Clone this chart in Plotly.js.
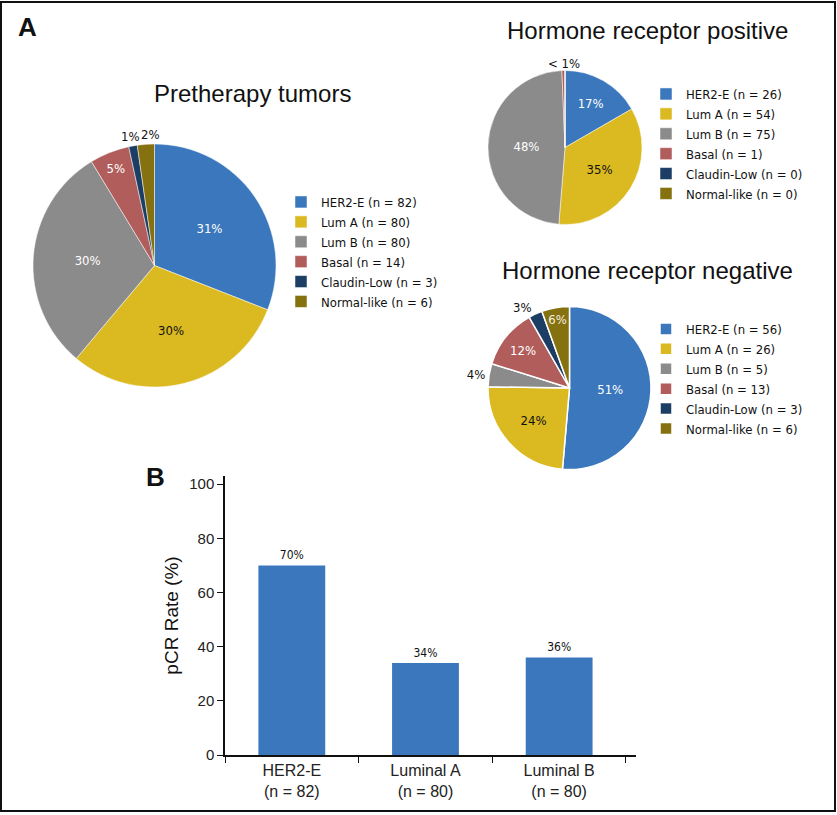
<!DOCTYPE html>
<html>
<head>
<meta charset="utf-8">
<script src="https://cdn.plot.ly/plotly-3.0.1.min.js"></script>
<style>
  body { margin: 0; background: #fff; }
  #chart { width: 837px; height: 815px; }
</style>
</head>
<body>
<div id="chart"></div>
<script>
// Subtype names and counts
var subtypes = ['HER2-E', 'Lum A', 'Lum B', 'Basal', 'Claudin-Low', 'Normal-like'];
var preN = [82, 80, 80, 14, 3, 6];
var hrPosN = [26, 54, 75, 1, 0, 0];
var hrNegN = [56, 26, 5, 13, 3, 6];

// Slice labels as printed in the figure
var preLabels = ['31%', '30%', '30%', '5%', '1%', '2%'];
var hrPosLabels = ['17%', '35%', '48%', '< 1%', '', ''];
var hrNegLabels = ['51%', '24%', '4%', '12%', '3%', '6%'];

// Panel B
var barCats = ['HER2-E<br>(n = 82)', 'Luminal A<br>(n = 80)', 'Luminal B<br>(n = 80)'];
var pcrRate = [70, 34, 36];

var colors = ['#3a77bc', '#dbb920', '#8b8b8b', '#b05d5b', '#1c3e65', '#85710f'];
var narrow = '"Liberation Sans Narrow", "DejaVu Sans Condensed", "Liberation Sans", Arial, sans-serif';
var sans = '"Liberation Sans", Arial, sans-serif';
var W = 837, H = 815;

// helpers for pixel -> paper fractions
function px(x) { return x / W; }
function py(y) { return 1 - y / H; }

function legendNames(counts) {
  return subtypes.map(function (s, i) { return s + ' (n = ' + counts[i] + ')'; });
}

// Creating the three pies
function pieTrace(counts, labels, cx, cy, r, legendId, txtColors, txtPos, lineW) {
  return {
    type: 'pie',
    labels: legendNames(counts),
    values: counts,
    text: labels,
    textinfo: 'text',
    textposition: txtPos,
    insidetextorientation: 'horizontal',
    sort: false,
    direction: 'clockwise',
    rotation: 0,
    hoverinfo: 'label+value',
    legend: legendId,
    legendgroup: legendId,
    domain: { x: [px(cx - r), px(cx + r)], y: [py(cy + r), py(cy - r)] },
    marker: { colors: colors, line: { color: '#ffffff', width: lineW } },
    textfont: { family: narrow, size: 13, color: txtColors },
    outsidetextfont: { family: narrow, size: 13, color: '#111' }
  };
}

// tiny slices of the first two pies get their labels as annotations (no leader lines)
var pre = pieTrace(preN, preLabels, 154.5, 265.5, 121.5, 'legend',
  ['#fff', '#111', '#fff', '#fff', '#fff', '#fff'],
  ['inside', 'inside', 'inside', 'inside', 'none', 'none'], 0.5);

var hrPos = pieTrace(hrPosN, hrPosLabels, 565, 147.5, 77, 'legend2',
  ['#fff', '#111', '#fff', '#fff', '#fff', '#fff'],
  ['inside', 'inside', 'inside', 'none', 'none', 'none'], 0.5);

var hrNeg = pieTrace(hrNegN, hrNegLabels, 569.5, 388, 81.5, 'legend3',
  ['#fff', '#111', '#fff', '#fff', '#fff', '#f4f0e0'],
  ['inside', 'inside', 'outside', 'inside', 'outside', 'inside'], 1.5);

// Creating the bar trace for panel B
var bars = {
  type: 'bar',
  x: barCats,
  y: pcrRate,
  width: 0.5,
  marker: { color: '#3a77bc' },
  text: pcrRate.map(function (v) { return v + '%'; }),
  textposition: 'outside',
  textfont: { family: narrow, size: 12, color: '#111' },
  cliponaxis: false,
  hoverinfo: 'x+y',
  showlegend: false,
  xaxis: 'x',
  yaxis: 'y'
};

function legendAt(x, y) {
  return {
    x: px(x), y: py(y), xanchor: 'left', yanchor: 'top',
    bgcolor: 'rgba(0,0,0,0)', borderwidth: 0,
    font: { family: narrow, size: 13, color: '#111' },
    itemclick: false, itemdoubleclick: false
  };
}

function note(text, x, y, size, bold, fam) {
  return {
    text: bold ? '<b>' + text + '</b>' : text,
    x: px(x), y: py(y), xref: 'paper', yref: 'paper',
    xanchor: 'center', yanchor: 'middle', showarrow: false,
    font: { family: fam || sans, size: size, color: '#111' }
  };
}

// Creating the layout
var layout = {
  width: W,
  height: H,
  margin: { l: 0, r: 0, t: 0, b: 0 },
  paper_bgcolor: '#fff',
  plot_bgcolor: 'rgba(0,0,0,0)',
  legend: legendAt(281, 187),
  legend2: legendAt(646, 79),
  legend3: legendAt(646, 314),
  xaxis: {
    domain: [px(225), px(636)],
    anchor: 'y',
    type: 'category',
    range: [-0.5, 2.575],
    tickson: 'boundaries',
    ticks: 'outside',
    ticklen: 6,
    tickcolor: '#111',
    showline: true,
    linecolor: '#111',
    linewidth: 1.5,
    showgrid: false,
    tickfont: { family: sans, size: 16, color: '#222' }
  },
  yaxis: {
    domain: [py(755), py(476)],
    anchor: 'x',
    range: [0, 103],
    tickvals: [0, 20, 40, 60, 80, 100],
    ticks: 'outside',
    ticklen: 6,
    tickcolor: '#111',
    showline: true,
    linecolor: '#111',
    linewidth: 1.5,
    showgrid: false,
    zeroline: false,
    tickfont: { family: sans, size: 15, color: '#222' },
    title: { text: 'pCR Rate (%)', standoff: 6, font: { family: sans, size: 19, color: '#111' } }
  },
  annotations: [
    note('A', 27, 27, 26, true),
    note('B', 155, 477, 26, true),
    note('Pretherapy tumors', 252, 93, 24, false),
    note('Hormone receptor positive', 647, 30, 24, false),
    note('Hormone receptor negative', 647, 270, 24, false),
    note(preLabels[4], 130, 136, 13, false, narrow),
    note(preLabels[5], 150, 135, 13, false, narrow),
    note(hrPosLabels[3], 564, 63, 13, false, narrow)
  ],
  shapes: [{
    type: 'rect', xref: 'paper', yref: 'paper',
    x0: px(1), x1: px(835), y0: py(811), y1: py(2),
    line: { color: '#111', width: 2 }
  }]
};

Plotly.newPlot('chart', [pre, hrPos, hrNeg, bars], layout, { displayModeBar: false });
</script>
</body>
</html>
